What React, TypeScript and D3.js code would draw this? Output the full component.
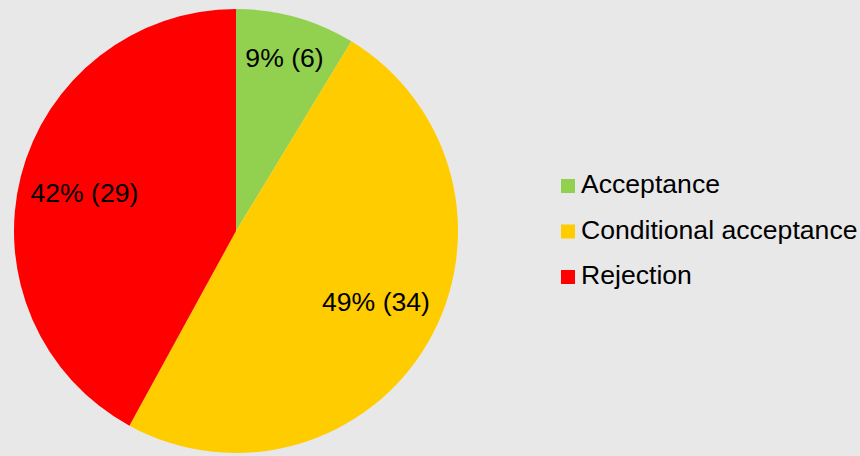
import { useEffect, useRef } from "react";
import * as d3 from "d3";

const categories = ["Acceptance", "Conditional acceptance", "Rejection"];
const counts = [6, 34, 29];
const colors = ["#92D050", "#FFCC00", "#FF0000"];

const width = 860;
const height = 456;
const cx = 236;
const cy = 231;
const radius = 222;
const fontSize = 26.6;

export default function App() {
  const svgRef = useRef<SVGSVGElement>(null);

  useEffect(() => {
    document.body.style.margin = "0";
    const svg = d3.select(svgRef.current);
    svg.selectAll("*").remove();

    svg.append("rect").attr("width", width).attr("height", height).attr("fill", "#E8E8E8");

    const total = d3.sum(counts);
    const data = categories.map((name, i) => ({ name, value: counts[i], color: colors[i] }));

    const pie = d3
      .pie<any>()
      .value((d) => d.value)
      .sort(null);
    const arcs = pie(data);

    const arc = d3.arc<any>().innerRadius(0).outerRadius(radius);

    const g = svg.append("g").attr("transform", `translate(${cx},${cy})`);

    g.selectAll("path")
      .data(arcs)
      .enter()
      .append("path")
      .attr("d", arc)
      .attr("fill", (d) => d.data.color);

    // labels: small slices get pushed further out (like Excel best fit)
    g.selectAll("text")
      .data(arcs)
      .enter()
      .append("text")
      .attr("transform", (d) => {
        const a = (d.startAngle + d.endAngle) / 2 - (d.data.value / total > 0.45 ? 0.06 : 0);
        const r = d.data.value / total < 0.15 ? radius * 0.81 : radius * 0.705;
        return `translate(${Math.sin(a) * r},${-Math.cos(a) * r})`;
      })
      .attr("text-anchor", "middle")
      .attr("dy", "0.36em")
      .attr("font-family", "Liberation Sans, Arial, sans-serif")
      .attr("font-size", fontSize)
      .attr("fill", "#000")
      .text((d) => `${Math.round((d.data.value / total) * 100)}% (${d.data.value})`);

    // legend
    const legend = svg.append("g").attr("transform", "translate(561,179)");
    const rows = legend
      .selectAll("g")
      .data(data)
      .enter()
      .append("g")
      .attr("transform", (_d, i) => `translate(0,${i * 45.5})`);
    rows.append("rect").attr("width", 14).attr("height", 14).attr("fill", (d) => d.color);
    rows
      .append("text")
      .attr("x", 20)
      .attr("y", 14)
      .attr("font-family", "Liberation Sans, Arial, sans-serif")
      .attr("font-size", fontSize)
      .attr("fill", "#000")
      .text((d) => d.name);
  }, []);

  return <svg ref={svgRef} width={width} height={height} style={{ display: "block" }} />;
}
